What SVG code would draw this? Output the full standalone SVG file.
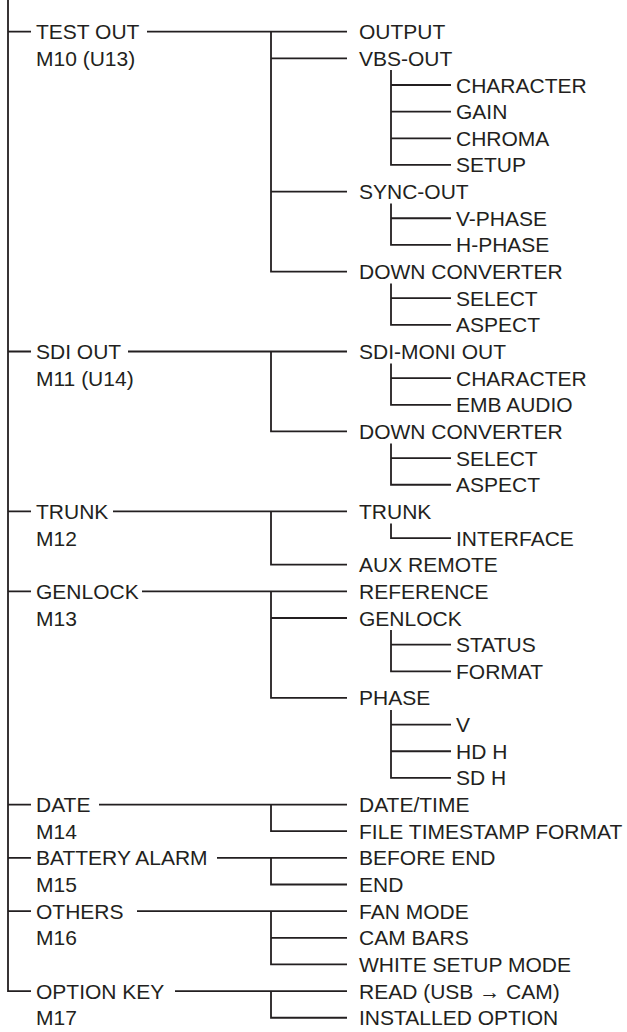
<svg xmlns="http://www.w3.org/2000/svg" width="627" height="1032" viewBox="0 0 627 1032">
<style>
text{font-family:"Liberation Sans",Arial,Helvetica,sans-serif;font-size:21px;fill:#231f20}
.c{fill:none;stroke:#231f20;stroke-width:1.8;stroke-linejoin:miter}
</style>
<rect width="627" height="1032" fill="#fff"/>
<g id="connectors" class="c">
<path d="M8 0V991.1H31M8 31.7H31M8 351.5H31M8 511.4H31M8 591.35H31M8 804.55H31M8 857.85H31M8 911.15H31"/>
<path d="M147 31.7H347M271 31.7V271.55H347M271 58.35H347M271 191.6H347"/>
<path d="M128 351.5H347M271 351.5V431.45H347"/>
<path d="M113 511.4H347M271 511.4V564.7H347"/>
<path d="M142 591.35H347M271 591.35V697.95H347M271 618H347"/>
<path d="M99 804.55H347M271 804.55V831.2H347"/>
<path d="M217 857.85H347M271 857.85V884.5H347"/>
<path d="M137 911.15H347M271 911.15V964.45H347M271 937.8H347"/>
<path d="M175 991.1H347M271 991.1V1017.75H347"/>
<path d="M391 70V164.95H451M391 85H451M391 111.65H451M391 138.3H451"/>
<path d="M391 203.6V244.9H451M391 218.25H451"/>
<path d="M391 283.5V324.85H451M391 298.2H451"/>
<path d="M391 363.5V404.8H451M391 378.15H451"/>
<path d="M391 443.5V484.75H451M391 458.1H451"/>
<path d="M391 523.4V538.05H451"/>
<path d="M391 630V671.3H451M391 644.65H451"/>
<path d="M391 710V777.9H451M391 724.6H451M391 751.25H451"/>
</g>
<g id="test-out"><text x="36" y="39.2">TEST OUT</text><text x="36" y="65.85">M10 (U13)</text></g>
<g id="output"><text x="359" y="39.2">OUTPUT</text></g>
<g id="vbs-out"><text x="359" y="65.85">VBS-OUT</text></g>
<g id="vbs-character"><text x="456" y="92.5">CHARACTER</text></g>
<g id="vbs-gain"><text x="456" y="119.15">GAIN</text></g>
<g id="vbs-chroma"><text x="456" y="145.8">CHROMA</text></g>
<g id="vbs-setup"><text x="456" y="172.45">SETUP</text></g>
<g id="sync-out"><text x="359" y="199.1">SYNC-OUT</text></g>
<g id="v-phase"><text x="456" y="225.75">V-PHASE</text></g>
<g id="h-phase"><text x="456" y="252.4">H-PHASE</text></g>
<g id="test-down-converter"><text x="359" y="279.05">DOWN CONVERTER</text></g>
<g id="test-select"><text x="456" y="305.7">SELECT</text></g>
<g id="test-aspect"><text x="456" y="332.35">ASPECT</text></g>
<g id="sdi-out"><text x="36" y="359">SDI OUT</text><text x="36" y="385.65">M11 (U14)</text></g>
<g id="sdi-moni-out"><text x="359" y="359">SDI-MONI OUT</text></g>
<g id="sdi-character"><text x="456" y="385.65">CHARACTER</text></g>
<g id="emb-audio"><text x="456" y="412.3">EMB AUDIO</text></g>
<g id="sdi-down-converter"><text x="359" y="438.95">DOWN CONVERTER</text></g>
<g id="sdi-select"><text x="456" y="465.6">SELECT</text></g>
<g id="sdi-aspect"><text x="456" y="492.25">ASPECT</text></g>
<g id="trunk-menu"><text x="36" y="518.9">TRUNK</text><text x="36" y="545.55">M12</text></g>
<g id="trunk"><text x="359" y="518.9">TRUNK</text></g>
<g id="interface"><text x="456" y="545.55">INTERFACE</text></g>
<g id="aux-remote"><text x="359" y="572.2">AUX REMOTE</text></g>
<g id="genlock-menu"><text x="36" y="598.85">GENLOCK</text><text x="36" y="625.5">M13</text></g>
<g id="reference"><text x="359" y="598.85">REFERENCE</text></g>
<g id="genlock"><text x="359" y="625.5">GENLOCK</text></g>
<g id="status"><text x="456" y="652.15">STATUS</text></g>
<g id="format"><text x="456" y="678.8">FORMAT</text></g>
<g id="phase"><text x="359" y="705.45">PHASE</text></g>
<g id="phase-v"><text x="456" y="732.1">V</text></g>
<g id="hd-h"><text x="456" y="758.75">HD H</text></g>
<g id="sd-h"><text x="456" y="785.4">SD H</text></g>
<g id="date-menu"><text x="36" y="812.05">DATE</text><text x="36" y="838.7">M14</text></g>
<g id="date-time"><text x="359" y="812.05">DATE/TIME</text></g>
<g id="file-timestamp"><text x="359" y="838.7">FILE TIMESTAMP FORMAT</text></g>
<g id="battery-alarm"><text x="36" y="865.35">BATTERY ALARM</text><text x="36" y="892">M15</text></g>
<g id="before-end"><text x="359" y="865.35">BEFORE END</text></g>
<g id="end"><text x="359" y="892">END</text></g>
<g id="others"><text x="36" y="918.65">OTHERS</text><text x="36" y="945.3">M16</text></g>
<g id="fan-mode"><text x="359" y="918.65">FAN MODE</text></g>
<g id="cam-bars"><text x="359" y="945.3">CAM BARS</text></g>
<g id="white-setup-mode"><text x="359" y="971.95">WHITE SETUP MODE</text></g>
<g id="option-key"><text x="36" y="998.6">OPTION KEY</text><text x="36" y="1025.25">M17</text></g>
<g id="read"><text x="359" y="998.6">READ (USB → CAM)</text></g>
<g id="installed-option"><text x="359" y="1025.25">INSTALLED OPTION</text></g>
</svg>
